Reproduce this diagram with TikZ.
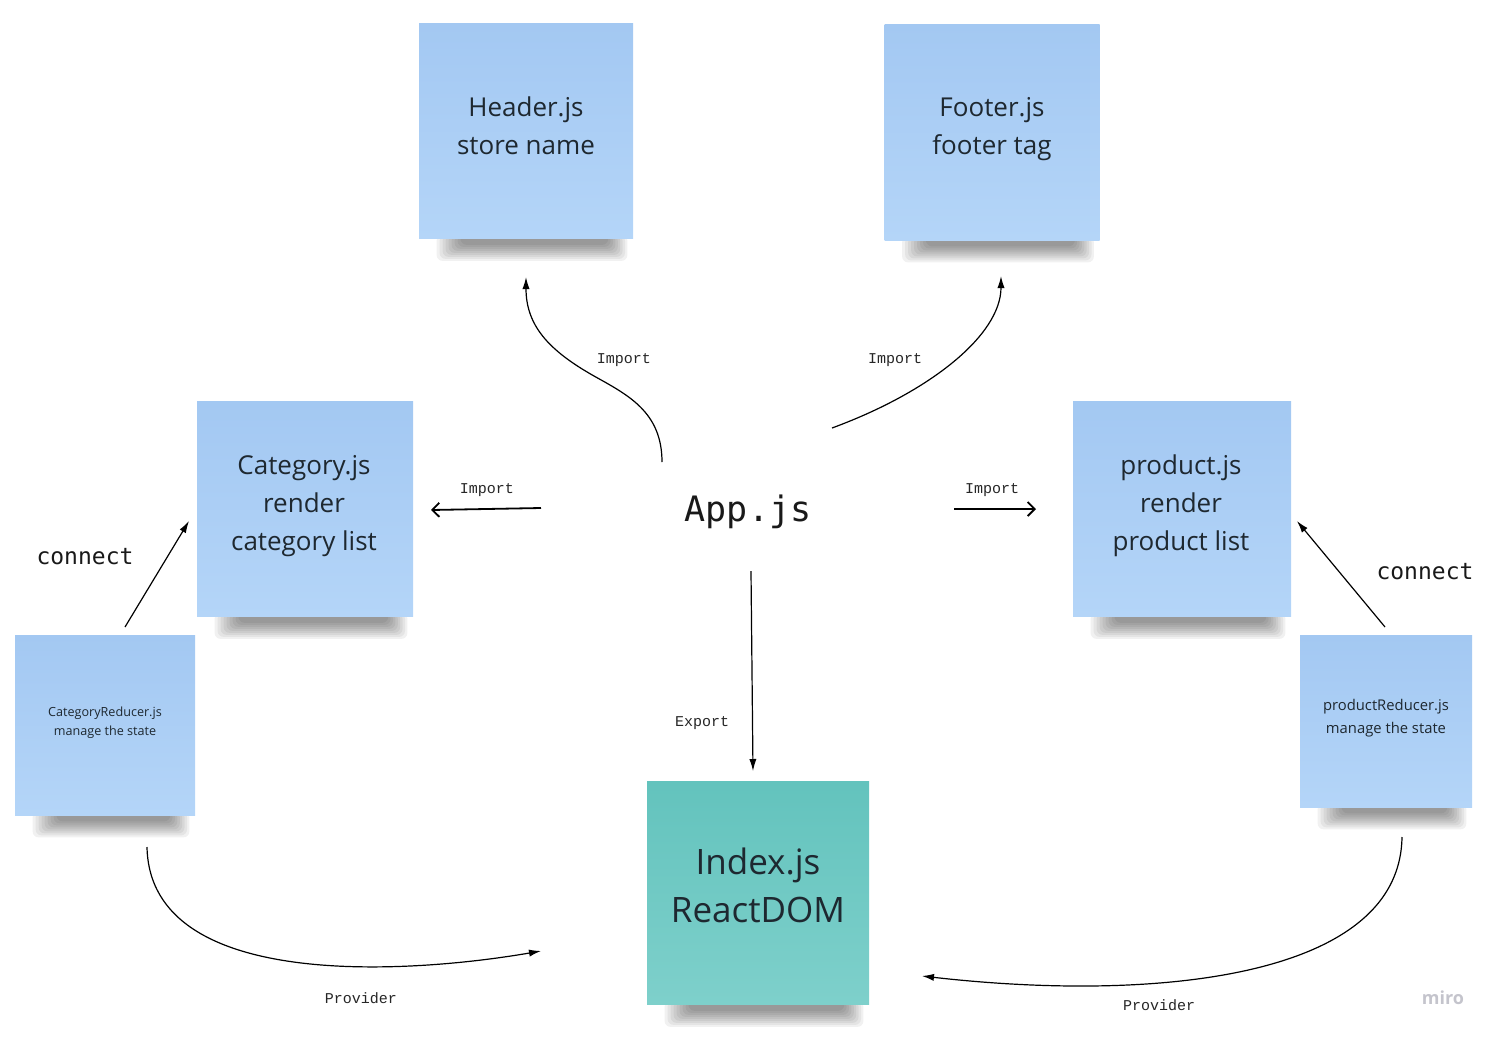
\documentclass[tikz,border=0pt]{standalone}
\usepackage{fontspec}
\setmainfont{Open Sans}
\newfontfamily\appmono{DejaVu Sans Mono}
\newfontfamily\labmono{Liberation Mono}
\usetikzlibrary{arrows.meta,backgrounds}
\definecolor{stkTop}{HTML}{A3C8F2}
\definecolor{stkBot}{HTML}{B4D5F8}
\definecolor{tealTop}{HTML}{63C3BD}
\definecolor{tealBot}{HTML}{7ED0CB}
\definecolor{txt}{HTML}{1E2830}
\definecolor{miroGray}{HTML}{C4C4CC}
\newcommand\stickyshadow[1]{%
  \foreach \i in {0,...,8}{%
    \fill[black, opacity=0.055, rounded corners=3pt]
      ([xshift={9pt+\i*1.5pt}, yshift=2pt]#1.south west) rectangle
      ([xshift={-3pt-\i*1.2pt}, yshift={-11pt+\i*1.0pt}]#1.south east);}}
\begin{document}
\begin{tikzpicture}[x=0.5pt,y=-0.5pt,
  sticky/.style={shade, top color=stkTop, bottom color=stkBot, inner sep=0pt},
  stxt/.style={align=center, text=txt, inner sep=0pt},
  bigtxt/.style={stxt, font=\fontsize{13}{19}\selectfont},
  conn/.style={line width=0.6pt, -{Latex[length=6pt,width=3.6pt]}},
  imp/.style={line width=0.9pt, -{Straight Barb[length=3.5pt,width=7pt]}},
  lab/.style={font=\labmono\fontsize{7.5}{9}\selectfont, text=black!85, inner sep=0pt}]
\useasboundingbox (0,0) rectangle (1501,1040);

% sticky notes
\node[sticky, minimum width=107pt, minimum height=107.5pt] (hdr) at (526,131) {};
\node[sticky, minimum width=107.5pt, minimum height=108pt] (ftr) at (992,132) {};
\node[sticky, minimum width=108pt, minimum height=107.5pt] (cat) at (305,509) {};
\node[sticky, minimum width=109pt, minimum height=107.5pt] (prd) at (1182,509) {};
\node[sticky, minimum width=90pt, minimum height=90pt] (catr) at (105,725) {};
\node[sticky, minimum width=86pt, minimum height=86pt] (prdr) at (1386,721) {};
\node[sticky, top color=tealTop, bottom color=tealBot, minimum width=111pt, minimum height=111.5pt] (idx) at (758,893) {};

% sticky texts
\node[bigtxt] (hdrT) at (526,126) {Header.js\\store name};
\node[bigtxt] (ftrT) at (992,129) {Footer.js\\footer tag};
\node[bigtxt] (catT) at (304,506) {Category.js\\render\\category list};
\node[bigtxt] (prdT) at (1181,506) {product.js\\render\\product list};
\node[stxt, font=\fontsize{6.3}{9.5}\selectfont] (catrT) at (105,723) {CategoryReducer.js\\manage the state};
\node[stxt, font=\fontsize{7.4}{11.5}\selectfont] (prdrT) at (1386,718) {productReducer.js\\manage the state};
\node[stxt, font=\fontsize{17.5}{24}\selectfont] (idxT) at (758,885) {Index.js\\ReactDOM};

\node[font=\appmono\fontsize{17.5}{20}\selectfont, text=black!90] (app) at (748,512) {App.js};

\begin{scope}[on background layer]
  \stickyshadow{hdr}
  \stickyshadow{ftr}
  \stickyshadow{cat}
  \stickyshadow{prd}
  \stickyshadow{catr}
  \stickyshadow{prdr}
  \stickyshadow{idx}
\end{scope}

% connector end points
\coordinate (hA) at (662,462); \coordinate (hB) at (526,277);
\coordinate (fA) at (832,428); \coordinate (fB) at (1001,276);
\coordinate (cA) at (541,508); \coordinate (cB) at (431,510);
\coordinate (pA) at (954,509); \coordinate (pB) at (1036,509);
\coordinate (eA) at (751,571); \coordinate (eB) at (753,771);
\coordinate (lcA) at (125,627); \coordinate (lcB) at (189,521);
\coordinate (rcA) at (1385,627); \coordinate (rcB) at (1297,521);
\coordinate (lpA) at (147,847); \coordinate (lpB) at (541,951);
\coordinate (rpA) at (1402,837); \coordinate (rpB) at (922,976);

\draw[conn] (hA) .. controls (662,412) and (628,395) .. (594,376) .. controls (548,350) and (526,325) .. (hB);
\draw[conn] (fA) .. controls (930,392) and (1001,335) .. (fB);
\draw[imp] (cA) -- (cB);
\draw[imp] (pA) -- (pB);
\draw[conn] (eA) -- (eB);
\draw[conn] (lcA) -- (lcB);
\draw[conn] (rcA) -- (rcB);
\draw[conn] (lpA) .. controls (150,995) and (420,972) .. (lpB);
\draw[conn] (rpA) .. controls (1400,980) and (1150,1002) .. (rpB);

% labels
\node[lab] (l1) at (624,360) {Import};
\node[lab] (l2) at (895,360) {Import};
\node[lab] (l3) at (487,490) {Import};
\node[lab] (l4) at (992,490) {Import};
\node[lab] (l5) at (702,723) {Export};
\node[lab] (l6) at (361,998) {Provider};
\node[lab] (l7) at (1159,1005) {Provider};
\node[font=\appmono\fontsize{11.5}{14}\selectfont, text=black!90, inner sep=0pt] (c1) at (85,557) {connect};
\node[font=\appmono\fontsize{11.5}{14}\selectfont, text=black!90, inner sep=0pt] (c2) at (1425,572) {connect};
\node[font=\bfseries\fontsize{9}{11}\selectfont, text=miroGray, inner sep=0pt] (miro) at (1443,998) {miro};
\end{tikzpicture}
\end{document}
